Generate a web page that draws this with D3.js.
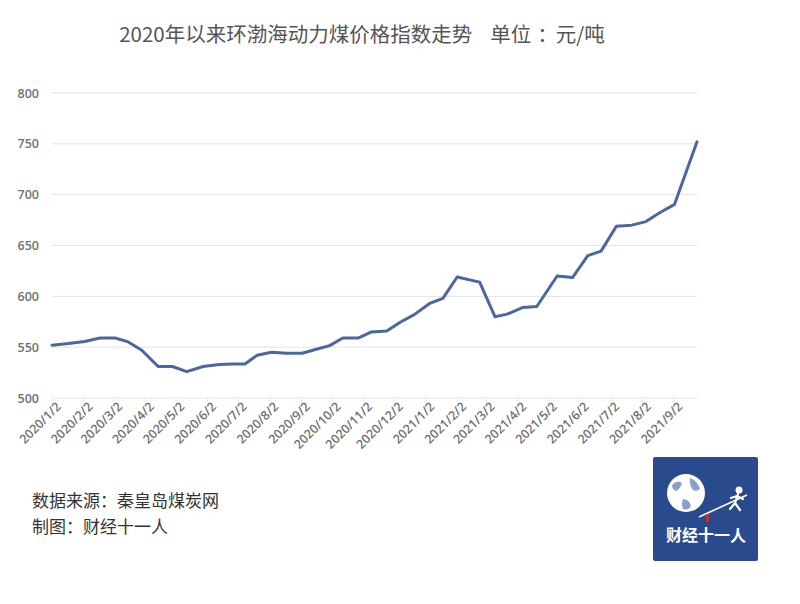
<!DOCTYPE html>
<html>
<head>
<meta charset="utf-8">
<script src="https://cdn.jsdelivr.net/npm/d3@7"></script>
<style>
  body { margin: 0; background: #fff; }
  svg { display: block; font-family: "Noto Sans CJK SC", "Noto Sans", sans-serif; }
  .grid line { stroke: #e3e3e3; stroke-width: 1; }
  .axis text { fill: #707070; }
  .axis path { display: none; }
  .axis line { stroke: #e3e3e3; }
</style>
</head>
<body>
<script>
// dates of the points (roughly biweekly)
var dates = [
  "2020-01-02", "2020-01-18", "2020-02-03", "2020-02-18", "2020-03-04",
  "2020-03-16", "2020-03-30", "2020-04-15", "2020-04-29", "2020-05-13",
  "2020-05-29", "2020-06-14", "2020-06-27", "2020-07-09", "2020-07-21",
  "2020-08-04", "2020-08-19", "2020-09-03", "2020-09-17", "2020-09-30",
  "2020-10-13", "2020-10-28", "2020-11-10", "2020-11-25", "2020-12-09",
  "2020-12-22", "2021-01-06", "2021-01-19", "2021-02-02", "2021-02-24",
  "2021-03-11", "2021-03-23", "2021-04-07", "2021-04-21", "2021-05-11",
  "2021-05-26", "2021-06-10", "2021-06-23", "2021-07-08", "2021-07-23",
  "2021-08-06", "2021-08-19", "2021-09-03", "2021-09-25"];

// price index, yuan / ton
var prices = [
  552, 553.5, 555.5, 559, 559,
  555.5, 547, 531, 531, 526,
  531, 533, 533.5, 533.5, 542,
  545, 544, 544, 548, 551.5,
  559, 559, 565, 566, 575,
  582, 593, 598, 619, 614,
  580, 582.5, 589, 590, 620,
  618.5, 640, 644.5, 669, 670,
  673.5, 682, 690.5, 752];

var x_labels = ["2020/1/2", "2020/2/2", "2020/3/2", "2020/4/2", "2020/5/2",
  "2020/6/2", "2020/7/2", "2020/8/2", "2020/9/2", "2020/10/2", "2020/11/2",
  "2020/12/2", "2021/1/2", "2021/2/2", "2021/3/2", "2021/4/2", "2021/5/2",
  "2021/6/2", "2021/7/2", "2021/8/2", "2021/9/2"];

var y_ticks = [500, 550, 600, 650, 700, 750, 800];

var title_main = "2020年以来环渤海动力煤价格指数走势",
    title_unit = ["单位", "：", "元/吨"];
var source_lines = ["数据来源：秦皇岛煤炭网", "制图：财经十一人"];

var width = 800, height = 604;
var parse_date = d3.timeParse("%Y-%m-%d"),
    parse_label = d3.timeParse("%Y/%m/%d");

var data = dates.map(function(d, i){
    return {date: parse_date(d), value: prices[i]};
});

var svg = d3.select("body").append("svg")
        .attr("width", width)
        .attr("height", height);

// scales
var scale_x = d3.scaleTime()
        .domain(d3.extent(data, function(d){ return d.date; }))
        .range([52, 697]);

var scale_y = d3.scaleLinear()
        .domain([500, 800])
        .range([398, 93]);

// title
var title = svg.append("text")
        .attr("x", 362)
        .attr("y", 42)
        .attr("text-anchor", "middle")
        .attr("fill", "#555")
        .style("font-size", "20.5px");
title.append("tspan").text(title_main);
title.append("tspan").attr("dx", 18).text(title_unit[0]);
// colon sits in the middle of its cell in the picture
title.append("tspan").attr("dx", 6).text(title_unit[1]);
title.append("tspan").attr("dx", -2).text(title_unit[2]);

// horizontal grid
svg.append("g")
        .attr("class", "grid")
        .selectAll("line")
        .data(y_ticks)
        .enter().append("line")
        .attr("x1", 52)
        .attr("x2", 697)
        .attr("y1", function(d){ return scale_y(d); })
        .attr("y2", function(d){ return scale_y(d); });

// y-axis labels
svg.append("g")
        .attr("class", "axis")
        .attr("transform", "translate(39,0)")
        .call(d3.axisLeft(scale_y).tickValues(y_ticks).tickSize(0).tickPadding(0))
        .selectAll("text")
        .style("font-size", "12.5px")
        .style("font-weight", "600")
        .style("font-family", "'Open Sans', sans-serif");

// x-axis
var tick_dates = x_labels.map(function(l){ return parse_label(l); });
svg.append("g")
        .attr("class", "axis")
        .attr("transform", "translate(0,398)")
        .call(d3.axisBottom(scale_x)
                .tickValues(tick_dates)
                .tickSize(4)
                .tickFormat(function(d, i){ return x_labels[i]; }))
        .selectAll("text")
        .style("font-size", "12.5px")
        .style("font-weight", "600")
        .style("font-family", "'Open Sans', sans-serif")
        .style("text-anchor", "end")
        .attr("dx", "0em")
        .attr("dy", "0.5em")
        .attr("transform", "rotate(-45)");

// the line
var line = d3.line()
        .x(function(d){ return scale_x(d.date); })
        .y(function(d){ return scale_y(d.value); });

svg.append("path")
        .datum(data)
        .attr("d", line)
        .attr("fill", "none")
        .attr("stroke", "#4a679e")
        .attr("stroke-width", 3)
        .attr("stroke-linejoin", "round")
        .attr("stroke-linecap", "round");

// source notes
svg.selectAll(".source")
        .data(source_lines)
        .enter().append("text")
        .attr("class", "source")
        .text(function(d){ return d; })
        .attr("x", 32)
        .attr("y", function(d, i){ return 507 + i*25.5; })
        .attr("fill", "#333")
        .style("font-size", "17px");

// logo
var logo = svg.append("g").attr("transform", "translate(653,457)");
logo.append("rect")
        .attr("width", 105)
        .attr("height", 104)
        .attr("rx", 2)
        .attr("fill", "#2a4a8e");
logo.append("circle")
        .attr("cx", 33)
        .attr("cy", 36)
        .attr("r", 19)
        .attr("fill", "#fff");
// rough continents on the globe
logo.append("path")
        .attr("d", "M19,28 q5,-6 10,-2 q-1,5 -6,8 q-4,-1 -4,-6 Z M37,21 q8,3 10,11 q-3,3 -7,1 q-4,-5 -3,-12 Z M30,42 q6,0 8,7 q-3,5 -8,3 q-2,-5 0,-10 Z")
        .attr("fill", "#8aa0c8");
logo.append("line")
        .attr("x1", 46).attr("y1", 60)
        .attr("x2", 94).attr("y2", 38)
        .attr("stroke", "#fff")
        .attr("stroke-width", 1.6);
logo.append("rect")
        .attr("x", 53).attr("y", 57)
        .attr("width", 3).attr("height", 8)
        .attr("fill", "#c0303a");
// small runner figure
var runner = logo.append("g")
        .attr("stroke", "#fff")
        .attr("stroke-width", 2.2)
        .attr("stroke-linecap", "round")
        .attr("fill", "none");
runner.append("circle").attr("cx", 86).attr("cy", 33).attr("r", 2.4).attr("fill", "#fff");
runner.append("path").attr("d", "M85,37 L82,46 M82,46 L77,52 M82,46 L87,53 M84,39 L78,41 M84,39 L90,42");
logo.append("text")
        .text("财经十一人")
        .attr("x", 53)
        .attr("y", 84)
        .attr("text-anchor", "middle")
        .attr("fill", "#fff")
        .style("font-size", "16px")
        .style("font-weight", "bold");
</script>
</body>
</html>
